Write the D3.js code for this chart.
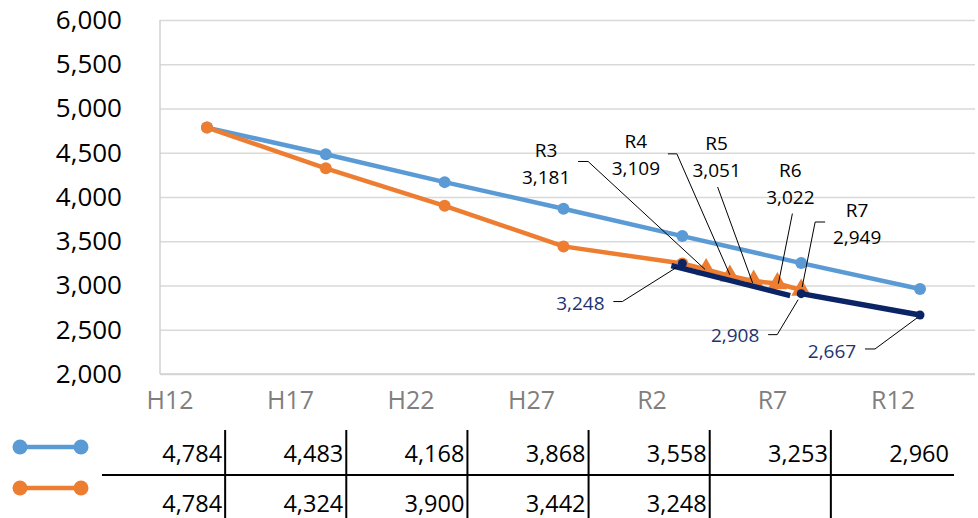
<!DOCTYPE html>
<html>
<head>
<meta charset="utf-8">
<script src="https://cdn.jsdelivr.net/npm/d3@7"></script>
<style>
  html, body { margin: 0; padding: 0; background: #fff; }
  svg { display: block; font-family: "Open Sans", "Noto Sans", sans-serif; }
</style>
</head>
<body>
<svg id="chart" width="978" height="518"></svg>
<script>
// ---- data ----
const categories = ["H12", "H17", "H22", "H27", "R2", "R7", "R12"];
const years = [2000, 2005, 2010, 2015, 2020, 2025, 2030];
const blueValues = [4784, 4483, 4168, 3868, 3558, 3253, 2960];
const orangeValues = [4784, 4324, 3900, 3442, 3248];
const annualLabels = ["R3", "R4", "R5", "R6", "R7"];
const annualYears = [2021, 2022, 2023, 2024, 2025];
const annualValues = [3181, 3109, 3051, 3022, 2949];
const navyYears = [2020, 2025, 2030];
const navyValues = [3248, 2908, 2667];
const yTicks = [2000, 2500, 3000, 3500, 4000, 4500, 5000, 5500, 6000];
const tableRow1 = ["4,784", "4,483", "4,168", "3,868", "3,558", "3,253", "2,960"];
const tableRow2 = ["4,784", "4,324", "3,900", "3,442", "3,248", "", ""];

// ---- styles ----
const BLUE = "#5B9BD5", ORANGE = "#ED7D31", NAVY = "#0B2466", NAVY_TEXT = "#1C3472";
const fmt = d3.format(",");

const svg = d3.select("#chart");
const plot = { left: 160, right: 975, top: 20, bottom: 374 };

const y = d3.scaleLinear().domain([2000, 6000]).range([plot.bottom, plot.top]);
const x = d3.scaleLinear().domain([2000, 2030]).range([207, 920]);
const labelX = d3.scalePoint().domain(categories).range([170, 893]);
const col = d3.scaleBand().domain(categories).range([104, 952]);

// grid + y axis
const yAxis = d3.axisLeft(y).tickValues(yTicks).tickFormat(fmt)
  .tickSize(-(plot.right - plot.left)).tickPadding(38);
const gy = svg.append("g").attr("transform", `translate(${plot.left},0)`).call(yAxis);
gy.select(".domain").remove();
gy.selectAll(".tick line").attr("stroke", "#d9d9d9").attr("stroke-width", 1.5);
gy.selectAll(".tick text").attr("fill", "#000").attr("font-size", 26)
  .attr("font-family", "'Open Sans', sans-serif");

svg.append("line").attr("x1", plot.left).attr("x2", plot.left)
  .attr("y1", plot.top).attr("y2", plot.bottom).attr("stroke", "#d0d0d0").attr("stroke-width", 1.5);
svg.append("line").attr("x1", plot.left).attr("x2", plot.right)
  .attr("y1", plot.bottom).attr("y2", plot.bottom).attr("stroke", "#d0d0d0").attr("stroke-width", 1.5);

// category labels
svg.append("g").selectAll("text").data(categories).join("text")
  .attr("x", d => labelX(d)).attr("y", 409)
  .attr("text-anchor", "middle").attr("font-size", 25).attr("fill", "#7f7f7f")
  .text(d => d);

const line = d3.line().x(d => x(d[0])).y(d => y(d[1]));

// blue series
const blueData = years.map((yr, i) => [yr, blueValues[i]]);
svg.append("path").datum(blueData).attr("d", line)
  .attr("fill", "none").attr("stroke", BLUE).attr("stroke-width", 4.5);
svg.append("g").selectAll("circle").data(blueData).join("circle")
  .attr("cx", d => x(d[0])).attr("cy", d => y(d[1])).attr("r", 6).attr("fill", BLUE);

// orange series (+ annual continuation)
const orangeData = orangeValues.map((v, i) => [years[i], v]);
const annualData = annualYears.map((yr, i) => [yr, annualValues[i]]);
svg.append("path").datum(orangeData.concat(annualData)).attr("d", line)
  .attr("fill", "none").attr("stroke", ORANGE).attr("stroke-width", 4.5);
svg.append("g").selectAll("circle").data(orangeData).join("circle")
  .attr("cx", d => x(d[0])).attr("cy", d => y(d[1])).attr("r", 6).attr("fill", ORANGE);
svg.append("g").selectAll("path").data(annualData).join("path")
  .attr("d", d3.symbol().type(d3.symbolTriangle).size(170))
  .attr("transform", d => `translate(${x(d[0])},${y(d[1])})`)
  .attr("fill", ORANGE);

// navy series
const navyData = navyYears.map((yr, i) => [yr, navyValues[i]]);
svg.append("path").datum(navyData.slice(0, 2)).attr("d", line)
  .attr("transform", "translate(-11,2)")
  .attr("fill", "none").attr("stroke", NAVY).attr("stroke-width", 5.5);
svg.append("path").datum(navyData.slice(1)).attr("d", line)
  .attr("fill", "none").attr("stroke", NAVY).attr("stroke-width", 5.5);
svg.append("g").selectAll("circle").data(navyData).join("circle")
  .attr("cx", d => x(d[0])).attr("cy", d => y(d[1])).attr("r", 4.5).attr("fill", NAVY);

// annual labels with leaders (layout offsets relative to point)
const annualLayout = [
  { dx: -160, dy: -112, lead: [[-128, -108], [-118, -108], [-1, 0]] },
  { dx: -94, dy: -128, lead: [[-62, -122], [-53, -122], [0, -1]] },
  { dx: -37, dy: -131, lead: [[-36, -94], [-36, -94], [-1, 2]] },
  { dx: 13, dy: -107, lead: [[15, -70], [15, -70], [1, 0]] },
  { dx: 56, dy: -73, lead: [[24, -68], [14, -68], [1, -3]] }
];
const gAnn = svg.append("g");
annualData.forEach((d, i) => {
  const px = x(d[0]), py = y(d[1]), L = annualLayout[i];
  gAnn.append("path")
    .attr("d", d3.line()(L.lead.map(p => [px + p[0], py + p[1]])))
    .attr("fill", "none").attr("stroke", "#000").attr("stroke-width", 1);
  const t = gAnn.append("text").attr("text-anchor", "middle").attr("font-size", 19).attr("fill", "#000");
  t.append("tspan").attr("x", px + L.dx).attr("y", py + L.dy).text(annualLabels[i]);
  t.append("tspan").attr("x", px + L.dx).attr("y", py + L.dy + 27).text(fmt(d[1]));
});

// navy labels
const navyLayout = [
  { dx: -102, dy: 46, lead: [[-69, 38], [-60, 38], [-6, 4]] },
  { dx: -66, dy: 48, lead: [[-33, 41], [-24, 41], [-3, 6]] },
  { dx: -88, dy: 43, lead: [[-55, 34], [-45, 34], [-3, 3]] }
];
navyData.forEach((d, i) => {
  const px = x(d[0]), py = y(d[1]), L = navyLayout[i];
  gAnn.append("path")
    .attr("d", d3.line()(L.lead.map(p => [px + p[0], py + p[1]])))
    .attr("fill", "none").attr("stroke", "#000").attr("stroke-width", 1);
  gAnn.append("text").attr("x", px + L.dx).attr("y", py + L.dy)
    .attr("text-anchor", "middle").attr("font-size", 19).attr("fill", NAVY_TEXT)
    .text(fmt(d[1]));
});

// data table
const gT = svg.append("g");
const rowY = [430, 475, 518];
gT.append("line").attr("x1", 102).attr("x2", 954).attr("y1", rowY[1]).attr("y2", rowY[1])
  .attr("stroke", "#000").attr("stroke-width", 2);
gT.selectAll("line.v").data(categories.slice(1)).join("line").attr("class", "v")
  .attr("x1", d => col(d)).attr("x2", d => col(d))
  .attr("y1", rowY[0]).attr("y2", rowY[2]).attr("stroke", "#000").attr("stroke-width", 2);
[tableRow1, tableRow2].forEach((row, r) => {
  gT.append("g").selectAll("text").data(row).join("text")
    .attr("x", (d, i) => col(categories[i]) + col.bandwidth() - 3)
    .attr("y", r === 0 ? 462 : 512)
    .attr("text-anchor", "end").attr("font-size", 23.5).attr("fill", "#000")
    .text(d => d);
});

// legend keys
[[BLUE, 447], [ORANGE, 488]].forEach(([c, ly]) => {
  const g = svg.append("g");
  g.append("line").attr("x1", 20).attr("x2", 81).attr("y1", ly).attr("y2", ly)
    .attr("stroke", c).attr("stroke-width", 4.5);
  g.selectAll("circle").data([20, 81]).join("circle")
    .attr("cx", d => d).attr("cy", ly).attr("r", 7.5).attr("fill", c);
});
</script>
</body>
</html>
